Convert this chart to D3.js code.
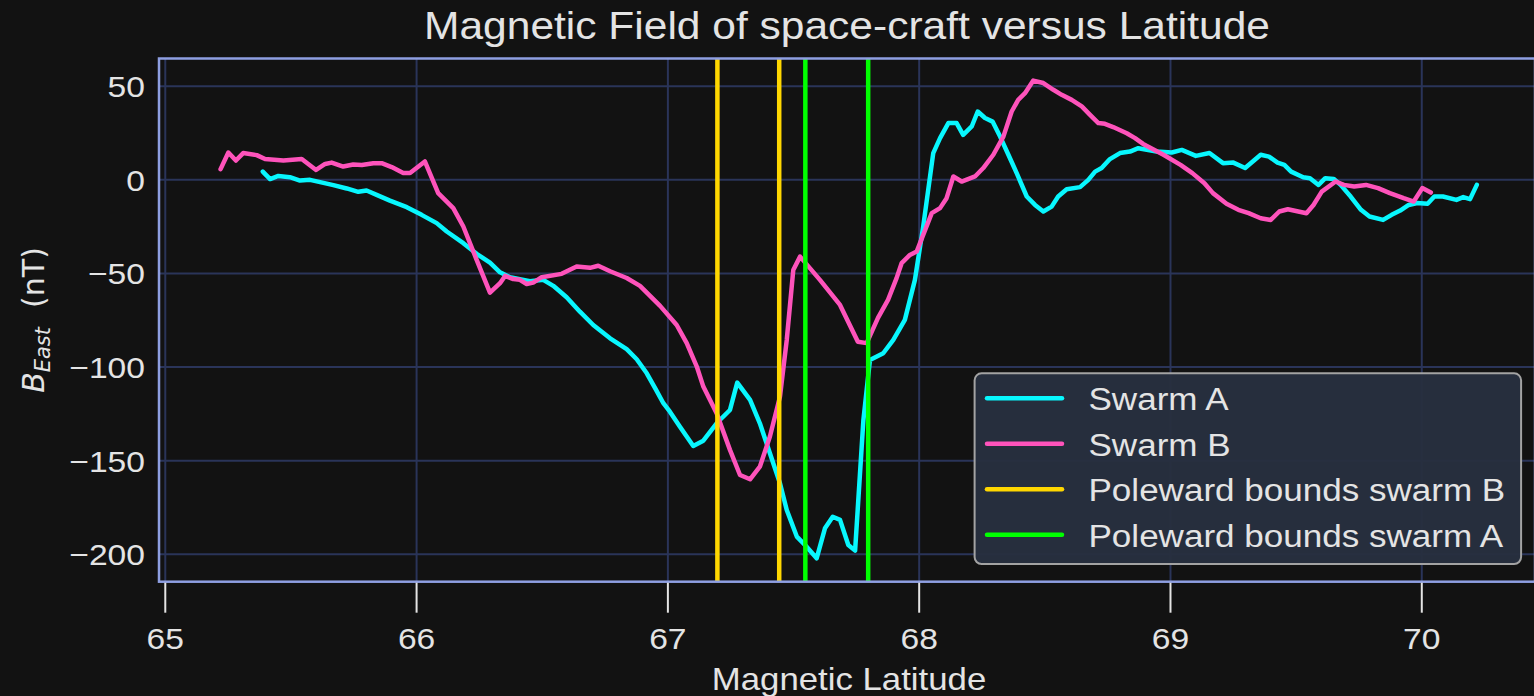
<!DOCTYPE html>
<html>
<head>
<meta charset="utf-8">
<script src="https://cdn.jsdelivr.net/npm/d3@7"></script>
<style>
  html, body { margin: 0; padding: 0; background: #121212; overflow: hidden; }
  text { font-family: 'Liberation Sans', Arial, sans-serif; fill: #e4e4e4; }
</style>
</head>
<body>
<div id="viz"></div>
<script>
// data

// Swarm A
let latA = [65.388, 65.417, 65.450, 65.496, 65.536, 65.576, 65.616, 65.669, 65.722, 65.768,
  65.801, 65.841, 65.894, 65.961, 66.020, 66.080, 66.120, 66.186, 66.239, 66.292,
  66.332, 66.372, 66.411, 66.451, 66.504, 66.544, 66.597, 66.650, 66.703, 66.770,
  66.836, 66.876, 66.916, 66.953, 66.982, 67.008, 67.048, 67.101, 67.141, 67.194,
  67.247, 67.276, 67.327, 67.366, 67.406, 67.446, 67.473, 67.513, 67.552, 67.592,
  67.625, 67.656, 67.685, 67.718, 67.745, 67.778, 67.804, 67.857, 67.897, 67.943,
  67.983, 68.016, 68.056, 68.083, 68.116, 68.149, 68.175, 68.209, 68.233, 68.262,
  68.292, 68.322, 68.355, 68.388, 68.428, 68.461, 68.494, 68.527, 68.553, 68.587,
  68.640, 68.673, 68.700, 68.726, 68.759, 68.799, 68.839, 68.872, 68.945, 69.005,
  69.045, 69.101, 69.155, 69.209, 69.250, 69.297, 69.359, 69.392, 69.426, 69.453,
  69.480, 69.528, 69.555, 69.589, 69.616, 69.650, 69.677, 69.717, 69.758, 69.792,
  69.846, 69.880, 69.914, 69.948, 69.982, 70.023, 70.050, 70.084, 70.138, 70.165,
  70.192, 70.219];
let bA = [4.4, 0.4, 2.1, 1.4, -0.4, 0, -1.2, -2.8, -4.6, -6.4,
  -5.7, -8.0, -11.1, -14.6, -18.7, -23.1, -27.6, -33.8, -39.5, -44.2,
  -49.4, -52.0, -53.0, -54.1, -53.4, -56.6, -62.7, -70.4, -77.5, -84.6,
  -90.4, -95.8, -103.3, -112.2, -119.3, -123.8, -131.8, -142.1, -139.3, -130.0,
  -122.9, -108.3, -117.5, -130.0, -146.0, -162.0, -176.3, -190.5, -195.9, -202.1,
  -186.1, -179.9, -181.6, -195.0, -198.0, -128.2, -96.2, -92.6, -85.5, -74.8,
  -53.4, -24.9, 14.3, 22.3, 30.3, 30.3, 24.0, 28.5, 36.5, 33.0,
  31.1, 23.1, 13.4, 3.6, -8.9, -13.4, -16.9, -14.3, -8.9, -5.0,
  -3.9, 0, 4.4, 6.3, 11.1, 14.3, 15.1, 16.9, 15.1, 14.6,
  16.0, 12.8, 14.3, 8.9, 9.2, 6.3, 13.4, 12.4, 9.2, 8.0,
  4.4, 1.4, 0.9, -2.7, 0.9, 0.5, -2.7, -8.9, -16.0, -19.6,
  -21.4, -18.7, -16.4, -13.4, -12.4, -12.8, -8.9, -8.9, -10.7, -9.2,
  -10.3, -2.7];

// Swarm B
let latB = [65.220, 65.251, 65.281, 65.310, 65.364, 65.397, 65.470, 65.543, 65.600, 65.636,
  65.662, 65.708, 65.748, 65.782, 65.828, 65.861, 65.901, 65.947, 65.974, 66.033,
  66.086, 66.146, 66.186, 66.239, 66.292, 66.332, 66.352, 66.385, 66.411, 66.438,
  66.464, 66.498, 66.577, 66.637, 66.690, 66.723, 66.770, 66.836, 66.889, 66.969,
  67.035, 67.075, 67.115, 67.141, 67.194, 67.247, 67.287, 67.327, 67.366, 67.406,
  67.446, 67.473, 67.499, 67.526, 67.605, 67.685, 67.756, 67.791, 67.836, 67.876,
  67.910, 67.930, 67.963, 67.990, 68.016, 68.050, 68.083, 68.109, 68.136, 68.169,
  68.222, 68.255, 68.295, 68.335, 68.368, 68.394, 68.421, 68.454, 68.494, 68.534,
  68.567, 68.607, 68.647, 68.680, 68.713, 68.739, 68.772, 68.826, 68.859, 68.891,
  68.972, 69.040, 69.087, 69.135, 69.169, 69.223, 69.270, 69.311, 69.359, 69.399,
  69.433, 69.467, 69.541, 69.569, 69.602, 69.657, 69.690, 69.731, 69.778, 69.826,
  69.873, 69.928, 69.968, 70.002, 70.036];
let bB = [5.7, 14.6, 10.3, 14.3, 13.2, 11.1, 10.3, 11.1, 5.3, 8.5,
  9.2, 7.1, 8.2, 7.9, 8.9, 8.9, 6.8, 3.6, 3.6, 9.8,
  -7.1, -15.1, -24.9, -42.7, -60.2, -55.2, -51.3, -53.0, -53.4, -55.6,
  -54.9, -52.0, -50.2, -46.3, -47.0, -45.9, -48.8, -52.4, -56.6, -67.3,
  -77.5, -87.2, -99.7, -110.4, -124.6, -144.2, -157.6, -159.9, -153.2, -137.1,
  -115.8, -85.5, -48.1, -41.0, -53.4, -66.8, -86.5, -87.2, -73.7, -64.1,
  -52.5, -44.5, -40.1, -38.3, -29.4, -17.8, -15.1, -9.8, 1.8, -0.9,
  1.8, 6.3, 13.4, 23.1, 36.5, 42.7, 46.3, 53.0, 51.7, 48.1,
  45.4, 42.7, 39.2, 34.7, 30.3, 29.9, 28.2, 24.9, 22.3, 19.2,
  13.4, 8.0, 3.6, -1.8, -7.1, -12.8, -16.0, -17.8, -20.5, -21.4,
  -16.9, -15.7, -17.8, -13.4, -6.3, -0.9, -2.7, -3.6, -2.7, -4.4,
  -7.1, -9.8, -11.6, -4.4, -6.8];

// poleward bounds
let boundsB = [67.197, 67.443];
let boundsA = [67.547, 67.797];

let xTicks = [65, 66, 67, 68, 69, 70];
let yTicks = [-200, -150, -100, -50, 0, 50];

let legendNames = ['Swarm A', 'Swarm B', 'Poleward bounds swarm B', 'Poleward bounds swarm A'];

// colors
let cyan = '#08F7FE';
let pink = '#FE53BB';
let yellow = '#FFD700';
let green = '#00FF00';
let gridCol = '#2A3459';
let frameCol = '#8E9FE2';

// layout
const width = 1534;
const height = 696;
const pLeft = 159, pRight = 1535, pTop = 58.5, pBottom = 581.7;

let x = d3.scaleLinear().domain([64.975, 70.4505]).range([pLeft, pRight]);
let y = d3.scaleLinear().domain([-214.6, 64.8]).range([pBottom, pTop]);

let svg = d3
  .select('#viz')
  .append('svg')
  .attr('width', width)
  .attr('height', height);

svg.append('rect').attr('width', width).attr('height', height).attr('fill', '#121212');

// stretch text a bit wider, the picture is wider than tall
function stretch(sel, k) {
  sel.each(function () {
    let w = this.getComputedTextLength();
    d3.select(this).attr('textLength', w * k).attr('lengthAdjust', 'spacingAndGlyphs');
  });
}

// grid
let grid = svg.append('g');
grid
  .selectAll('.gx')
  .data(xTicks)
  .enter()
  .append('line')
  .attr('x1', (d) => x(d))
  .attr('x2', (d) => x(d))
  .attr('y1', pTop)
  .attr('y2', pBottom)
  .attr('stroke', gridCol)
  .attr('stroke-width', 2);
grid
  .selectAll('.gy')
  .data(yTicks)
  .enter()
  .append('line')
  .attr('x1', pLeft)
  .attr('x2', pRight)
  .attr('y1', (d) => y(d))
  .attr('y2', (d) => y(d))
  .attr('stroke', gridCol)
  .attr('stroke-width', 2);

// curves
let lineGen = d3
  .line()
  .x((d) => x(d[0]))
  .y((d) => y(d[1]));

let plot = svg.append('g');
plot
  .append('path')
  .datum(d3.zip(latA, bA))
  .attr('d', lineGen)
  .attr('fill', 'none')
  .attr('stroke', cyan)
  .attr('stroke-width', 4.5)
  .attr('stroke-linejoin', 'round')
  .attr('stroke-linecap', 'round');
plot
  .append('path')
  .datum(d3.zip(latB, bB))
  .attr('d', lineGen)
  .attr('fill', 'none')
  .attr('stroke', pink)
  .attr('stroke-width', 4.5)
  .attr('stroke-linejoin', 'round')
  .attr('stroke-linecap', 'round');

// bounds
function vlines(vals, col) {
  plot
    .selectAll(null)
    .data(vals)
    .enter()
    .append('line')
    .attr('x1', (d) => x(d))
    .attr('x2', (d) => x(d))
    .attr('y1', pTop)
    .attr('y2', pBottom)
    .attr('stroke', col)
    .attr('stroke-width', 4.5);
}
vlines(boundsB, yellow);
vlines(boundsA, green);

// frame
svg
  .append('rect')
  .attr('x', pLeft)
  .attr('y', pTop)
  .attr('width', pRight - pLeft)
  .attr('height', pBottom - pTop)
  .attr('fill', 'none')
  .attr('stroke', frameCol)
  .attr('stroke-width', 2.5);

// x axis
let xAxis = svg.append('g');
xAxis
  .selectAll('.tick')
  .data(xTicks)
  .enter()
  .append('line')
  .attr('x1', (d) => x(d))
  .attr('x2', (d) => x(d))
  .attr('y1', pBottom + 1)
  .attr('y2', pBottom + 31)
  .attr('stroke', '#e4e4e4')
  .attr('stroke-width', 2);
xAxis
  .selectAll('text')
  .data(xTicks)
  .enter()
  .append('text')
  .attr('x', (d) => x(d))
  .attr('y', 649)
  .attr('text-anchor', 'middle')
  .style('font-size', '30px')
  .text((d) => d)
  .call(stretch, 1.12);

// y axis
svg
  .append('g')
  .selectAll('text')
  .data(yTicks)
  .enter()
  .append('text')
  .attr('x', 145)
  .attr('y', (d) => y(d) + 11)
  .attr('text-anchor', 'end')
  .style('font-size', '30px')
  .text((d) => (d < 0 ? '\u2212' + Math.abs(d) : d))
  .call(stretch, 1.12);

// title and labels
svg
  .append('text')
  .attr('x', (pLeft + pRight) / 2)
  .attr('y', 39)
  .attr('text-anchor', 'middle')
  .style('font-size', '39px')
  .text('Magnetic Field of space-craft versus Latitude')
  .call(stretch, 1.09);

svg
  .append('text')
  .attr('x', (pLeft + pRight) / 2 + 2)
  .attr('y', 690)
  .attr('text-anchor', 'middle')
  .style('font-size', '30.5px')
  .text('Magnetic Latitude')
  .call(stretch, 1.14);

let ylab = svg
  .append('text')
  .attr('transform', 'translate(44,320) rotate(-90)')
  .attr('text-anchor', 'middle')
  .style('font-family', "'DejaVu Sans', sans-serif")
  .style('font-size', '30px');
ylab.append('tspan').style('font-style', 'italic').text('B');
ylab.append('tspan').style('font-style', 'italic').style('font-size', '21px').attr('dy', 6).text('East');
ylab.append('tspan').attr('dy', -6).text('\u00a0\u00a0(nT)');

// legend
let legend = svg.append('g');
legend
  .append('rect')
  .attr('x', 974.6)
  .attr('y', 373.3)
  .attr('width', 546.5)
  .attr('height', 190.7)
  .attr('rx', 7)
  .attr('fill', '#27303F')
  .attr('fill-opacity', 0.97)
  .attr('stroke', '#A3A3A3')
  .attr('stroke-width', 2);

let legendCols = [cyan, pink, yellow, green];
let rows = legend
  .selectAll('.row')
  .data(legendNames)
  .enter()
  .append('g')
  .attr('transform', (d, i) => 'translate(0,' + (398.3 + i * 45.5) + ')');
rows
  .append('line')
  .attr('x1', 987)
  .attr('x2', 1062)
  .attr('stroke', (d, i) => legendCols[i])
  .attr('stroke-width', 4.5)
  .attr('stroke-linecap', 'round');
rows
  .append('text')
  .attr('x', 1088.5)
  .attr('y', 12)
  .style('font-size', '31px')
  .text((d) => d)
  .call(stretch, 1.13);
</script>
</body>
</html>
